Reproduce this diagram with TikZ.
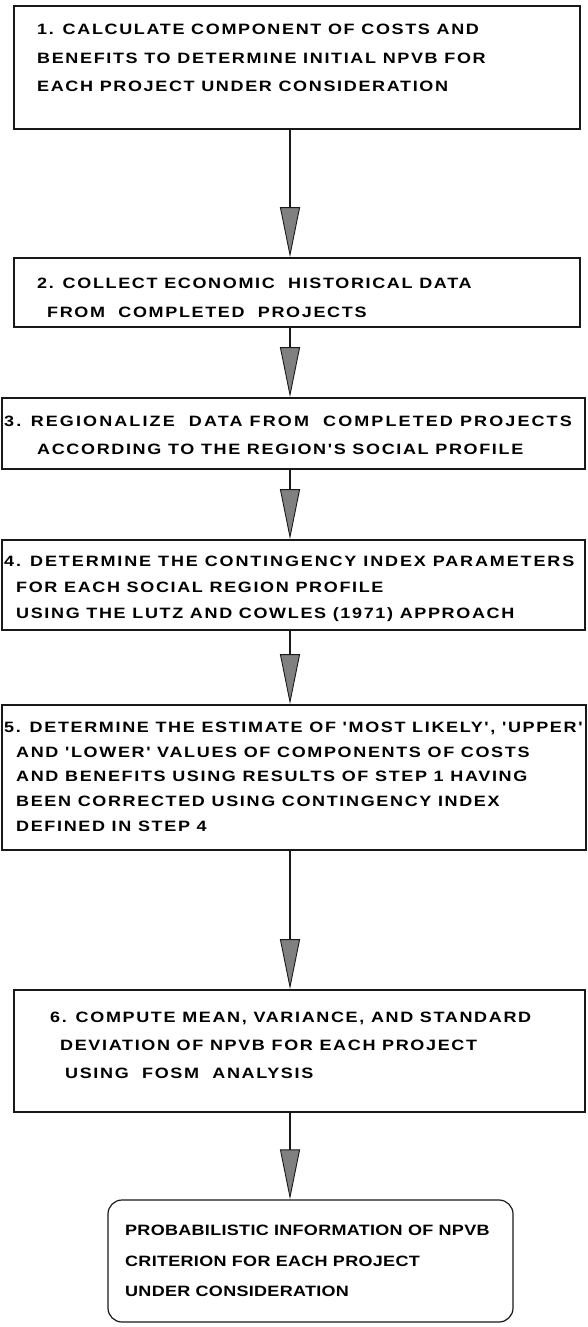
\documentclass[tikz,border=0pt]{standalone}
\usepackage{fontspec}
\usetikzlibrary{arrows.meta}
\newfontfamily\boxfont[LetterSpace=11,FakeStretch=1.2]{Liberation Sans}

\tikzset{
  stepbox/.style={draw=black!90, line width=1.6pt, inner sep=0pt},
  endbox/.style={stepbox, rounded corners=14pt, line width=1.2pt},
  txt/.style={anchor=base west, inner sep=0pt, font=\boxfont\bfseries\fontsize{15}{18}\selectfont},
  spaced/.style={txt, font=\boxfont\bfseries\fontsize{15}{18}\selectfont\addfontfeature{LetterSpace=#1}},
  flow/.style={line width=1.6pt, draw=black!90,
    -{Triangle[length=50pt, width=20pt, fill=black!50, line width=0.9pt]}},
}

\begin{document}
\begin{tikzpicture}[x=1pt, y=-1pt]
\useasboundingbox (0,0) rectangle (587,1327);

% axis of the vertical connectors
\coordinate (spine) at (290,0);

% step boxes
\node[stepbox, minimum width=566pt, minimum height=123pt] (b1) at (297,67.5) {};
\node[stepbox, minimum width=566pt, minimum height=69pt]  (b2) at (297,292.5) {};
\node[stepbox, minimum width=583pt, minimum height=71pt]  (b3) at (293.5,433.5) {};
\node[stepbox, minimum width=583pt, minimum height=90pt]  (b4) at (293.5,585) {};
\node[stepbox, minimum width=584pt, minimum height=145pt] (b5) at (294,777.5) {};
\node[stepbox, minimum width=571pt, minimum height=122pt] (b6) at (299.5,1051) {};
\node[endbox,  minimum width=405pt, minimum height=122pt] (b7) at (310.5,1261) {};

% texts of step 1
\node[txt] (t11) at (37,35)  {1. CALCULATE COMPONENT OF COSTS AND};
\node[txt] (t12) at (37,64)  {BENEFITS TO DETERMINE INITIAL NPVB FOR};
\node[txt] (t13) at (37,92)  {EACH PROJECT UNDER CONSIDERATION};
% step 2
\node[txt] (t21) at (37,288) {2. COLLECT ECONOMIC\ \ HISTORICAL DATA};
\node[txt] (t22) at (47,317) {FROM\ \ COMPLETED\ \ PROJECTS};
% step 3
\node[spaced=14] (t31) at (4,426)  {3. REGIONALIZE\ \ DATA FROM\ \ COMPLETED PROJECTS};
\node[txt] (t32) at (37,454) {ACCORDING TO THE REGION'S SOCIAL PROFILE};
% step 4
\node[spaced=12.5] (t41) at (4,566)  {4. DETERMINE THE CONTINGENCY INDEX PARAMETERS};
\node[txt] (t42) at (16,592) {FOR EACH SOCIAL REGION PROFILE};
\node[txt] (t43) at (16,618) {USING THE LUTZ AND COWLES (1971) APPROACH};
% step 5
\node[txt] (t51) at (4,732)  {5. DETERMINE THE ESTIMATE OF 'MOST LIKELY', 'UPPER'};
\node[txt] (t52) at (16,757) {AND 'LOWER' VALUES OF COMPONENTS OF COSTS};
\node[txt] (t53) at (16,781) {AND BENEFITS USING RESULTS OF STEP 1 HAVING};
\node[txt] (t54) at (16,806) {BEEN CORRECTED USING CONTINGENCY INDEX};
\node[txt] (t55) at (16,831) {DEFINED IN STEP 4};
% step 6
\node[txt] (t61) at (50,1022) {6. COMPUTE MEAN, VARIANCE, AND STANDARD};
\node[txt] (t62) at (60,1050) {DEVIATION OF NPVB FOR EACH PROJECT};
\node[txt] (t63) at (65,1078) {USING\ \ FOSM\ \ ANALYSIS};
% result
\node[spaced=2] (t71) at (125,1235) {PROBABILISTIC INFORMATION OF NPVB};
\node[spaced=2] (t72) at (125,1266) {CRITERION FOR EACH PROJECT};
\node[spaced=2] (t73) at (125,1296) {UNDER CONSIDERATION};

% connectors
\draw[flow] (b1.south -| spine) -- (b2.north -| spine);
\draw[flow] (b2.south -| spine) -- (b3.north -| spine);
\draw[flow] (b3.south -| spine) -- (b4.north -| spine);
\draw[flow] (b4.south -| spine) -- (b5.north -| spine);
\draw[flow] (b5.south -| spine) -- (b6.north -| spine);
\draw[flow] (b6.south -| spine) -- (b7.north -| spine);
\end{tikzpicture}
\end{document}
